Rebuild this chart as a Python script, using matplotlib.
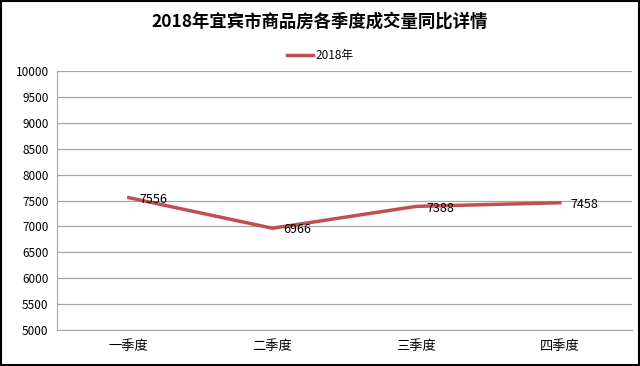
import matplotlib
matplotlib.use("Agg")
import matplotlib.pyplot as plt

plt.rcParams['font.family'] = ['Noto Sans CJK SC', 'DejaVu Sans']

quarters = ["一季度", "二季度", "三季度", "四季度"]
volume_2018 = [7556, 6966, 7388, 7458]
yticks = list(range(5000, 10001, 500))

fig = plt.figure(figsize=(6.4, 3.66), dpi=100)
ax = fig.add_axes([0.089, 0.098, 0.898, 0.708])

x = range(len(quarters))
ax.plot(x, volume_2018, color="#c0504d", linewidth=2.5, label="2018年")

# data labels sit just right of each point, like the Excel original
for i, v in enumerate(volume_2018):
    ax.annotate(str(v), (i, v), xytext=(7.5, -1.2), textcoords="offset points",
                ha="left", va="center", fontsize=9, color="black")

ax.set_xlim(-0.5, len(quarters) - 0.5)
ax.set_ylim(5000, 10000)
ax.set_yticks(yticks)
ax.set_xticks(list(x))
ax.set_xticklabels(quarters, fontsize=9.5)
ax.tick_params(axis="y", length=0, labelsize=8.5, pad=6)
ax.tick_params(axis="x", length=0, pad=7)
ax.grid(True, axis="y", color="#a6a6a6", linewidth=0.9)
ax.set_axisbelow(True)
for side in ("top", "right"):
    ax.spines[side].set_visible(False)
for side in ("left", "bottom"):
    ax.spines[side].set_color("#a6a6a6")

fig.text(0.5, 0.94, "2018年宜宾市商品房各季度成交量同比详情",
         ha="center", va="center", fontsize=12.5, fontweight="bold")
fig.legend(loc="center", bbox_to_anchor=(0.5, 0.847), frameon=False,
           fontsize=8.5, handlelength=2.2, handletextpad=0.2)

fig.patches.append(plt.Rectangle((0.0015, 0.0025), 0.997, 0.995, transform=fig.transFigure,
                                 fill=False, edgecolor="black", linewidth=1.5))

fig.savefig("out.png", dpi=100)
